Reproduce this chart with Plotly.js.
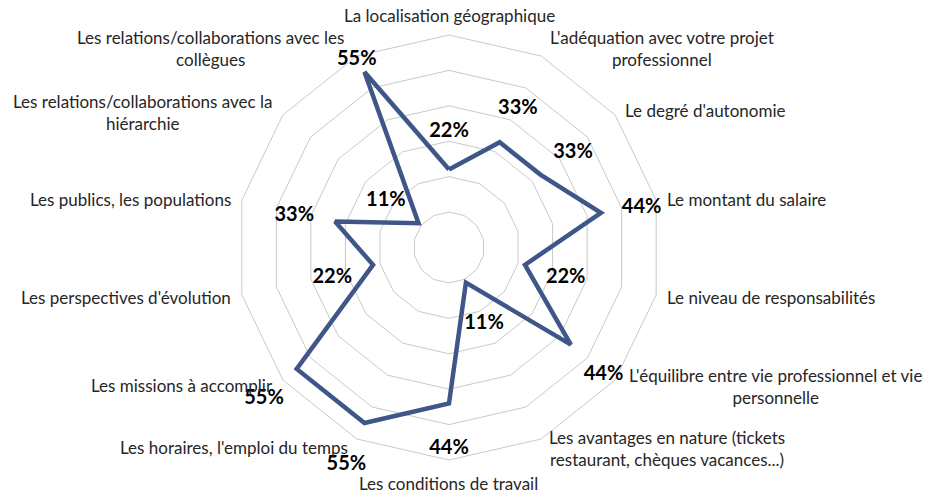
<!DOCTYPE html>
<html>
<head>
<meta charset="utf-8">
<script src="https://cdn.plot.ly/plotly-3.0.1.min.js"></script>
<style>html,body{margin:0;padding:0;background:#fff;}#chart{width:928px;height:494px;}</style>
</head>
<body>
<div id="chart"></div>
<script>
// Categories (clockwise from top)
const categories = [
  "La localisation géographique",
  "L'adéquation avec votre projet professionnel",
  "Le degré d'autonomie",
  "Le montant du salaire",
  "Le niveau de responsabilités",
  "L'équilibre entre vie professionnel et vie personnelle",
  "Les avantages en nature (tickets restaurant, chèques vacances...)",
  "Les conditions de travail",
  "Les horaires, l'emploi du temps",
  "Les missions à accomplir",
  "Les perspectives d'évolution",
  "Les publics, les populations",
  "Les relations/collaborations avec la hiérarchie",
  "Les relations/collaborations avec les collègues"
];
// Displayed (wrapped) category labels
const categoryLabels = [
  "La localisation géographique",
  "L'adéquation avec votre projet<br>professionnel",
  "Le degré d'autonomie",
  "Le montant du salaire",
  "Le niveau de responsabilités",
  "L'équilibre entre vie professionnel et vie<br>personnelle",
  "Les avantages en nature (tickets<br>restaurant, chèques vacances...)",
  "Les conditions de travail",
  "Les horaires, l'emploi du temps",
  "Les missions à accomplir",
  "Les perspectives d'évolution",
  "Les publics, les populations",
  "Les relations/collaborations avec la<br>hiérarchie",
  "Les relations/collaborations avec les<br>collègues"
];
// Percent values
const values = [22, 33, 33, 44, 22, 44, 11, 44, 55, 55, 22, 33, 11, 55];

// Layout only: category label placement (paper pixels) and value-label radial offsets
const labelPos = [
  [449, 15], [662, 49], [705, 110], [746, 199], [771, 297], [775, 386], [667, 448],
  [448, 483], [234, 447], [182, 385], [126, 297], [130, 199], [142, 112], [210, 49]
];
const valueLabelOffsets = [11.8, 11.8, 11.8, 11.8, 11.8, 11.8, 11.8, 11.8, 11.8, 11.8, 11.8, 11.8, 11.8, 5.0];

const W = 928, H = 494;
const CX = 449, CY = 247.5, R = 212.5, R2 = 242, textShift = 4;
const rMax = 60;
const lineColor = "#3F5788";
const gridColor = "#C9C9C9";

const closedTheta = categories.concat([categories[0]]);
const closedR = values.concat([values[0]]);

const traces = [
  {
    type: "scatterpolar",
    subplot: "polar",
    mode: "lines",
    r: closedR,
    theta: closedTheta,
    line: {color: lineColor, width: 4.5},
    hoverinfo: "skip",
    showlegend: false
  },
  {
    type: "scatterpolar",
    subplot: "polar2",
    mode: "text",
    r: values.map((v, i) => v + valueLabelOffsets[i]),
    theta: categories,
    text: values.map(v => "<b>" + v + "%</b>"),
    textposition: "middle center",
    textfont: {family: "Lato, 'Open Sans', sans-serif", size: 20, color: "#000"},
    cliponaxis: false,
    hoverinfo: "skip",
    showlegend: false
  }
];

const annotations = categoryLabels.map((t, i) => ({
  text: t,
  xref: "paper", yref: "paper",
  x: labelPos[i][0] / W,
  y: 1 - labelPos[i][1] / H,
  xanchor: "center", yanchor: "middle",
  align: "center",
  showarrow: false,
  font: {family: "Lato, 'Open Sans', sans-serif", size: 17, color: "#262626"}
}));

const angular = {
  type: "category",
  categoryarray: categories,
  rotation: 90, direction: "clockwise",
  showticklabels: false, ticks: "",
  showgrid: false
};

const CY2 = CY + textShift;

const layout = {
  width: W, height: H,
  margin: {l: 0, r: 0, t: 0, b: 0},
  paper_bgcolor: "#fff",
  showlegend: false,
  annotations: annotations,
  polar: {
    domain: {x: [(CX - R) / W, (CX + R) / W], y: [(H - CY - R) / H, (H - CY + R) / H]},
    bgcolor: "rgba(0,0,0,0)",
    gridshape: "linear",
    radialaxis: {
      range: [0, rMax], dtick: 10,
      showticklabels: false, ticks: "", showline: false,
      gridcolor: gridColor, gridwidth: 1
    },
    angularaxis: Object.assign({}, angular, {showline: true, linecolor: gridColor, linewidth: 1})
  },
  polar2: {
    domain: {x: [(CX - R2) / W, (CX + R2) / W], y: [(H - CY2 - R2) / H, (H - CY2 + R2) / H]},
    bgcolor: "rgba(0,0,0,0)",
    gridshape: "linear",
    radialaxis: {
      range: [0, rMax * R2 / R],
      showticklabels: false, ticks: "", showline: false, showgrid: false
    },
    angularaxis: Object.assign({}, angular, {showline: false})
  }
};

Plotly.newPlot("chart", traces, layout, {displayModeBar: false, staticPlot: true});
</script>
</body>
</html>
